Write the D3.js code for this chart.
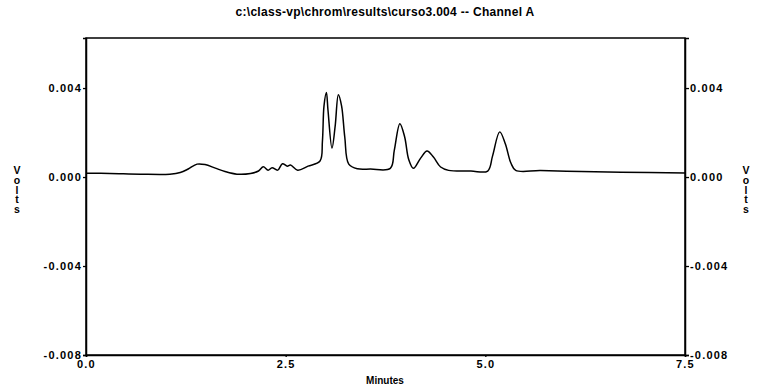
<!DOCTYPE html>
<html><head><meta charset="utf-8">
<script src="https://cdn.jsdelivr.net/npm/d3@7"></script>
<style>body{margin:0;background:#fff;} svg{display:block;}</style>
</head><body>
<svg id="c" width="760" height="386"></svg>
<script>
const title = "c:\\class-vp\\chrom\\results\\curso3.004 -- Channel A";
const xLabel = "Minutes";
const yLabel = "Volts";
const xTicks = [0.0, 2.5, 5.0, 7.5];
const yTicks = [0.004, 0.000, -0.004, -0.008];
const times = [0.00,0.30,0.68,1.05,1.18,1.28,1.39,1.49,1.62,1.74,1.89,2.06,2.16,2.22,2.28,2.33,2.40,2.46,2.52,2.56,2.65,2.78,2.93,2.96,2.98,3.01,3.03,3.08,3.12,3.16,3.20,3.24,3.29,3.40,3.56,3.81,3.86,3.93,3.99,4.04,4.10,4.19,4.27,4.35,4.44,4.54,4.82,5.03,5.09,5.18,5.25,5.32,5.38,5.69,6.20,6.70,7.50];
const volts = [0.00017,0.00016,0.00013,0.00013,0.00020,0.00036,0.00058,0.00056,0.00040,0.00025,0.00013,0.00016,0.00027,0.00046,0.00031,0.00042,0.00031,0.00060,0.00049,0.00054,0.00031,0.00049,0.00072,0.00160,0.00320,0.00380,0.00300,0.00130,0.00230,0.00370,0.00320,0.00180,0.00058,0.00037,0.00036,0.00039,0.00120,0.00240,0.00180,0.00080,0.00039,0.00085,0.00117,0.00090,0.00045,0.00030,0.00027,0.00027,0.00094,0.00203,0.00150,0.00063,0.00030,0.00029,0.00025,0.00022,0.00018];

const svg = d3.select("#c");
const L = 86, R = 685, T = 38, B = 355;
const x = d3.scaleLinear().domain([0, 7.5]).range([L, R]);
const y = d3.scaleLinear().domain([-0.008, 0.00625]).range([B, T]);
const font = "'Liberation Sans', Arial, sans-serif";
const loc = d3.formatLocale({decimal: ".", thousands: ",", grouping: [3], currency: ["", ""], minus: "-"});

svg.append("rect").attr("x", L).attr("y", T).attr("width", R - L).attr("height", B - T)
  .attr("fill", "none").attr("stroke", "#000").attr("stroke-width", 1.5);

const fmt = loc.format(".3f");
const gl = svg.append("g").attr("transform", `translate(${L},0)`)
  .call(d3.axisLeft(y).tickValues(yTicks).tickFormat(fmt).tickSize(3).tickPadding(1));
const gr = svg.append("g").attr("transform", `translate(${R},0)`)
  .call(d3.axisRight(y).tickValues(yTicks).tickFormat(fmt).tickSize(4).tickPadding(1));
const gb = svg.append("g").attr("transform", `translate(0,${B})`)
  .call(d3.axisBottom(x).tickValues(xTicks).tickFormat(loc.format(".1f")).tickSize(2).tickPadding(3));
[gl, gr, gb].forEach(g => {
  g.select(".domain").attr("stroke", "#000").attr("stroke-width", 1.5);
  g.selectAll(".tick line").attr("stroke", "#000").attr("stroke-width", 1.3);
  g.selectAll("text").attr("font-family", font).attr("font-size", 11)
    .attr("font-weight", "bold").attr("letter-spacing", 1.2).attr("fill", "#000");
});

const line = d3.line().x((d, i) => x(times[i])).y(d => y(d)).curve(d3.curveCatmullRom.alpha(0.5));
svg.append("path").datum(volts).attr("d", line).attr("fill", "none")
  .attr("stroke", "#000").attr("stroke-width", 1.5);

svg.append("text").attr("x", 385).attr("y", 16).attr("text-anchor", "middle")
  .attr("font-family", font).attr("font-size", 12).attr("font-weight", "bold")
  .attr("letter-spacing", 0.3).attr("fill", "#000").text(title);
svg.append("text").attr("x", 385).attr("y", 384).attr("text-anchor", "middle")
  .attr("font-family", font).attr("font-size", 10).attr("font-weight", "bold").attr("fill", "#000").text(xLabel);

[17, 746].forEach(cx => {
  svg.append("text").attr("x", cx).attr("y", 164)
    .style("writing-mode", "vertical-rl").style("text-orientation", "upright")
    .attr("font-family", font).attr("font-size", 10.5).attr("font-weight", "bold")
    .attr("letter-spacing", -2.2).attr("fill", "#000").text(yLabel);
});
</script>
</body></html>
